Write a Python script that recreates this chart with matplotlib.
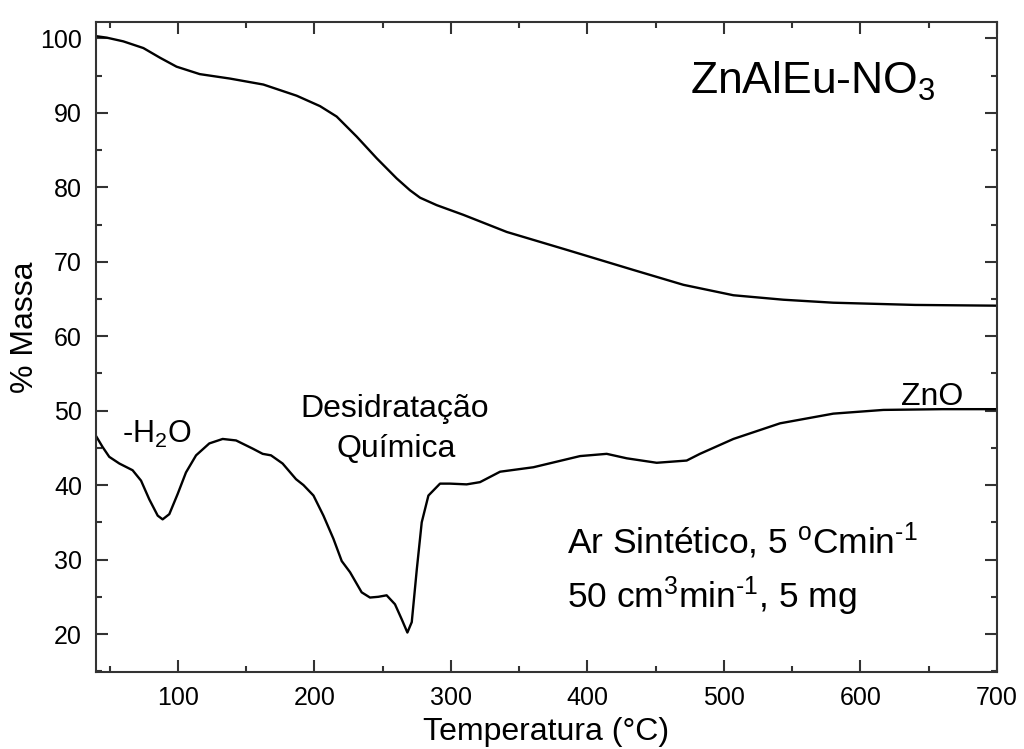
import matplotlib
matplotlib.use("Agg")
import matplotlib.pyplot as plt

plt.rcParams['font.family'] = ['Liberation Sans', 'DejaVu Sans']
plt.rcParams['mathtext.fontset'] = 'custom'
plt.rcParams['mathtext.rm'] = 'Liberation Sans'
plt.rcParams['mathtext.it'] = 'Liberation Sans:italic'
plt.rcParams['mathtext.bf'] = 'Liberation Sans:bold'

# TG curve (% mass)
tg_temp = [40, 47.8, 60, 74.7, 86.9, 99, 116, 138.2, 162.6, 187, 204.1, 216.3, 231,
           245.6, 260.2, 270, 277.4, 289.6, 309.1, 340.9, 384.8, 433.6, 470.3, 506.9,
           543.5, 580, 640, 700]
tg_mass = [100.3, 100.1, 99.6, 98.7, 97.4, 96.2, 95.2, 94.6, 93.8, 92.3, 90.9, 89.5, 86.8,
           83.9, 81.2, 79.6, 78.6, 77.6, 76.3, 74.0, 71.6, 68.9, 66.9, 65.5,
           64.9, 64.5, 64.2, 64.1]

# DTG curve (plotted on same axis)
dtg_temp = [40, 44.9, 49.7, 57.1, 66.8, 73, 79, 85.2, 88.8, 93.7, 99.8, 105.9, 113.3, 123,
            132.8, 142.6, 154.8, 162.1, 168.2, 176.7, 186.5, 192, 199.3, 206.6, 213.9,
            220, 226.1, 234.6, 240.7, 246.8, 252.9, 259, 263.9, 268.1, 271.3, 275,
            278.6, 283.5, 292, 299.3, 311.5, 321.3, 336, 360.4, 394.6, 414.1, 428.8,
            450.7, 472.7, 482.4, 506.9, 541.1, 580.1, 616.8, 660, 700]
dtg_val = [46.6, 45.1, 43.8, 42.9, 42.0, 40.6, 38.1, 35.9, 35.4, 36.1, 38.8, 41.7, 44.0,
           45.6, 46.2, 46.0, 44.9, 44.2, 44.0, 42.9, 40.8, 40.0, 38.6, 35.9, 32.8,
           29.8, 28.3, 25.6, 24.9, 25.0, 25.2, 24.0, 22.0, 20.2, 21.6, 28.7,
           35.0, 38.6, 40.2, 40.2, 40.1, 40.4, 41.8, 42.4, 43.9, 44.2, 43.6,
           43.0, 43.3, 44.2, 46.2, 48.3, 49.6, 50.1, 50.2, 50.2]

x_ticks = [100, 200, 300, 400, 500, 600, 700]
y_ticks = [20, 30, 40, 50, 60, 70, 80, 90, 100]

fig = plt.figure(figsize=(10.24, 7.49), dpi=100)
ax = fig.add_axes([96/1024, 1-672/749, (997-96)/1024, (672-22)/749])

ax.plot(tg_temp, tg_mass, color='black', lw=1.7, solid_joinstyle='round')
ax.plot(dtg_temp, dtg_val, color='black', lw=1.7, solid_joinstyle='round')

ax.set_xlim(40, 700)
ax.set_ylim(14.9, 102.2)
ax.set_xticks(x_ticks)
ax.set_yticks(y_ticks)
ax.set_xticks(list(range(50, 701, 100)), minor=True)
ax.set_yticks(list(range(15, 101, 10)), minor=True)

for s in ax.spines.values():
    s.set_linewidth(1.5)
    s.set_color('#333333')
ax.tick_params(which='both', direction='in', top=True, right=True, color='#333333',
               width=1.5, labelsize=18, pad=10)
ax.tick_params(which='major', length=8.5)
ax.tick_params(which='minor', length=4.3)

ax.set_xlabel('Temperatura (°C)', fontsize=23, labelpad=5)
ax.set_ylabel('% Massa', fontsize=23)
ax.yaxis.set_label_coords((40 - 96) / 901, (672 - 327) / 650)

fig.canvas.draw()
t = ax.transData.inverted()
def data_of(xp, yp):
    return t.transform((xp, 749 - yp))

hy = '\u2010'
x, y = data_of(121.7, 443)
ax.text(x, y, r'-H$_2$O', fontsize=22, ha='left', va='baseline')
x, y = data_of(395, 417)
ax.text(x, y, 'Desidratação', fontsize=23, ha='center', va='baseline')
x, y = data_of(396, 457)
ax.text(x, y, 'Química', fontsize=23, ha='center', va='baseline')
x, y = data_of(963, 405)
ax.text(x, y, 'ZnO', fontsize=23, ha='right', va='baseline')
x, y = data_of(566.7, 553)
ax.text(x, y, 'Ar Sintético, 5 $^{\\rm o}$Cmin$^{\\rm ' + hy + '1}$', fontsize=25.5,
        ha='left', va='baseline')
x, y = data_of(566.7, 608)
ax.text(x, y, '50 cm$^3$min$^{\\rm ' + hy + '1}$, 5 mg', fontsize=25.5,
        ha='left', va='baseline')
x, y = data_of(690, 94)
ax.text(x, y, r'ZnAlEu-NO$_3$', fontsize=32, ha='left', va='baseline')

fig.savefig('out.png', dpi=100)
